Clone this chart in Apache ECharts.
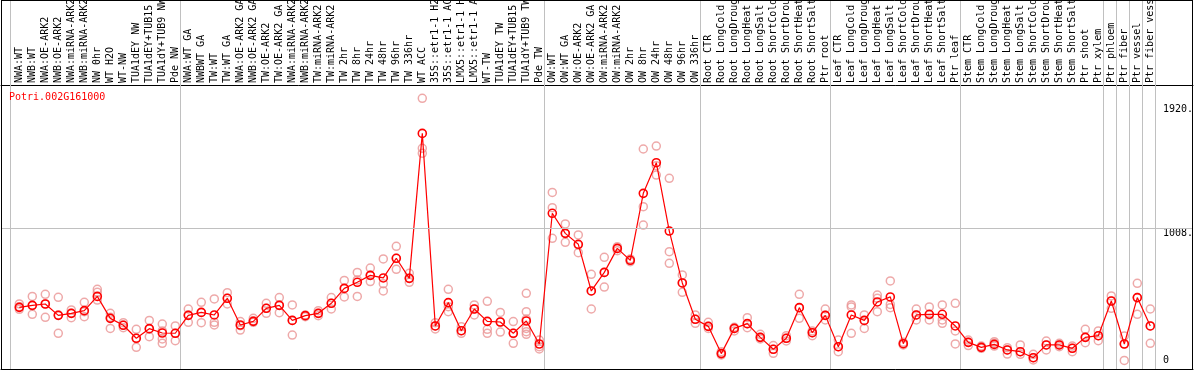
<!DOCTYPE html>
<html>
<head>
<meta charset="utf-8">
<script src="https://cdn.jsdelivr.net/npm/echarts@6/dist/echarts.min.js"></script>
<style>
html,body{margin:0;padding:0;background:#fff;}
#chart{width:1194px;height:370px;}
</style>
</head>
<body>
<div id="chart"></div>
<script>
// ---- data ----
const geneName = "Potri.002G161000";
const categories = [
  "NWA:WT","NWB:WT","NWA:OE-ARK2","NWB:OE-ARK2","NWA:miRNA-ARK2","NWB:miRNA-ARK2","NW 0hr","WT H2O","WT-NW","TUA1dEY NW","TUA1dEY+TUB15 NW","TUA1dY+TUB9 NW","Pde NW",
  "NWA:WT GA","NWBWT GA","TW:WT","TW:WT GA","NWA:OE-ARK2 GA","NWB:OE-ARK2 GA","TW:OE-ARK2","TW:OE-ARK2 GA","NWA:miRNA-ARK2 GA","NWB:miRNA-ARK2 GA","TW:miRNA-ARK2","TW:miRNA-ARK2 GA","TW 2hr","TW 8hr","TW 24hr","TW 48hr","TW 96hr","TW 336hr","WT ACC","35S::etr1-1 H2O","35S::etr1-1 ACC","LMX5::etr1-1 H2O","LMX5::etr1-1 ACC","WT-TW","TUA1dEY TW","TUA1dEY+TUB15 TW","TUA1dY+TUB9 TW","Pde TW",
  "OW:WT","OW:WT GA","OW:OE-ARK2","OW:OE-ARK2 GA","OW:miRNA-ARK2","OW:miRNA-ARK2 GA","OW 2hr","OW 8hr","OW 24hr","OW 48hr","OW 96hr","OW 336hr",
  "Root CTR","Root LongCold","Root LongDrought","Root LongHeat","Root LongSalt","Root ShortCold","Root ShortDrought","Root ShortHeat","Root ShortSalt","Ptr root",
  "Leaf CTR","Leaf LongCold","Leaf LongDrought","Leaf LongHeat","Leaf LongSalt","Leaf ShortCold","Leaf ShortDrought","Leaf ShortHeat","Leaf ShortSalt","Ptr leaf",
  "Stem CTR","Stem LongCold","Stem LongDrought","Stem LongHeat","Stem LongSalt","Stem ShortCold","Stem ShortDrought","Stem ShortHeat","Stem ShortSalt","Ptr shoot","Ptr xylem",
  "Ptr phloem","Ptr fiber","Ptr vessel","Ptr fiber vessel"
];
// index of the last category of each group (separator lines drawn after them)
const groupEnds = [12, 40, 52, 62, 72, 83, 84, 85, 86, 87];
const meanValues = [
  425,440,450,366,381,401,506,344,293,197,268,236,234,
  366,388,369,492,295,322,418,440,329,364,381,455,565,610,661,642,787,639,1708,288,460,253,413,322,317,234,325,155,
  1119,971,890,546,683,860,772,1266,1492,988,605,337,
  285,84,270,305,204,116,197,423,238,366,
  135,369,329,465,502,157,369,374,374,288,
  167,130,152,111,98,54,148,148,123,204,216,
  472,155,497,288
];
const replicateValues = [
  [450,430,411],[506,438,374],[521,450,352],[499,369,234],[406,381,349],[462,393,356],[558,536,479],[381,352,270],[312,295,275],[263,197,130],[329,266,209],[302,251,192,160],[288,234,179],
  [413,369,315],[462,388,312],[487,315,295],[533,492,450],[320,290,258],[344,327,315],[455,418,381],[497,443,386],[443,329,221],[369,364,356],[401,381,364],[497,455,413],[624,565,502],[683,627,506],[715,661,615],[782,600,546],[875,787,706],[676,639,610],[1967,1598,1561],[312,288,266],[558,430,393],[283,253,234],[443,413,369],[470,263,234],[388,317,243],[320,234,160],[529,393,339,270,246,226],[184,135,118],
  [1273,1160,934],[1040,971,905],[959,885,828],[669,546,413],[794,683,575],[873,860,843],[782,772,762],[1593,1168,1032],[1615,1470,1401],[1377,836,750],[664,605,536],[369,337,307],
  [315,285,270],[98,84,74],[278,270,251],[349,305,275],[226,204,192],[143,116,86],[216,197,177],[521,423,344],[251,238,216],[413,366,332],
  [184,135,98],[443,428,234],[369,329,270],[516,492,393],[620,447,423],[167,157,148],[413,369,332],[428,369,332],[443,332,307],[455,251,155],
  [184,167,143],[140,130,123],[172,160,140],[128,111,81],[148,98,79],[79,54,37],[177,148,111],[160,148,135],[140,123,98],[263,204,165],[251,216,179],
  [509,472,418],[214,155,34],[602,497,374],[413,288,160]
];
const yTickValues = [1008, 1920];
const yTickLabels = {"0": "0", "1008": "1008.", "1920": "1920."};
const yMax = 2065;

// ---- layout constants (pixels) ----
const W = 1194, H = 370;
const firstX = 19.3, step = 13;
const plotLeft = 1, plotRight = 1193, plotTop = 85, zeroY = 365;
const xMin = (plotLeft - firstX) / step;
const xMax = (plotRight - firstX) / step;
const sepOffset = 5 / step;
const separators = [(10 - firstX) / step].concat(groupEnds.map(i => i + sepOffset));

const FONT = "DejaVu Sans Mono";

const lineData = meanValues.map((v, i) => [i, v]);
const repData = [];
replicateValues.forEach((arr, i) => arr.forEach(v => repData.push([i, v])));

const chart = echarts.init(document.getElementById('chart'), null, {renderer: 'canvas'});
chart.setOption({
  animation: false,
  backgroundColor: '#ffffff',
  title: {
    text: geneName, left: 9, top: 92, padding: 0,
    textStyle: {color: '#ff0000', fontFamily: FONT, fontSize: 10, fontWeight: 'normal'}
  },
  grid: {left: plotLeft, right: W - plotRight, top: plotTop, bottom: H - zeroY, containLabel: false, outerBoundsMode: 'none'},
  xAxis: [
    {
      type: 'value', position: 'top', min: xMin, max: xMax,
      axisLine: {show: true, onZero: false, lineStyle: {color: '#000', width: 1}},
      axisTick: {show: false},
      splitLine: {show: false},
      axisLabel: {
        show: true, rotate: -90, margin: 2, customValues: categories.map((c, i) => i),
        formatter: v => categories[Math.round(v)] || '',
        fontFamily: FONT, fontSize: 10, color: '#000', hideOverlap: false
      }
    },
    {
      type: 'value', position: 'bottom', min: xMin, max: xMax, offset: 4,
      axisLine: {show: true, onZero: false, lineStyle: {color: '#000', width: 1}},
      axisTick: {show: true, inside: true, length: 369, customValues: separators, lineStyle: {color: '#c0c0c0', width: 1}},
      splitLine: {show: false},
      axisLabel: {show: false}
    }
  ],
  yAxis: [
    {
      type: 'value', position: 'right', min: 0, max: yMax,
      axisLine: {show: false}, axisTick: {show: false}, splitLine: {show: false},
      axisLabel: {
        inside: true, margin: 30, align: 'left', verticalAlign: 'top',
        customValues: yTickValues, formatter: v => yTickLabels[String(v)],
        fontFamily: FONT, fontSize: 10, color: '#000'
      }
    },
    {
      type: 'value', position: 'right', min: 0, max: yMax,
      axisLine: {show: false}, axisTick: {show: false}, splitLine: {show: false},
      axisLabel: {
        inside: true, margin: 30, align: 'left', verticalAlign: 'bottom',
        customValues: [0], formatter: v => yTickLabels[String(v)],
        fontFamily: FONT, fontSize: 10, color: '#000'
      }
    }
  ],
  graphic: [
    {type: 'line', shape: {x1: 1.5, y1: 0.5, x2: 1192.5, y2: 0.5}, style: {stroke: '#000', lineWidth: 1}, z: 100},
    {type: 'line', shape: {x1: 1.5, y1: 0, x2: 1.5, y2: 370}, style: {stroke: '#000', lineWidth: 1}, z: 100},
    {type: 'line', shape: {x1: 1192.5, y1: 0, x2: 1192.5, y2: 370}, style: {stroke: '#000', lineWidth: 1}, z: 100}
  ],
  series: [
    {
      type: 'scatter', xAxisIndex: 0, yAxisIndex: 0, data: repData,
      symbol: 'circle', symbolSize: 8, silent: true,
      itemStyle: {color: 'rgba(255,255,255,0)', borderColor: '#ea9494', borderWidth: 1.5},
      z: 2
    },
    {
      type: 'line', xAxisIndex: 0, yAxisIndex: 0, data: lineData,
      symbol: 'circle', symbolSize: 8, showAllSymbol: true, silent: true,
      lineStyle: {color: '#ff0000', width: 1.2},
      itemStyle: {color: 'rgba(255,255,255,0)', borderColor: '#ff0000', borderWidth: 1.6},
      markLine: {
        silent: true, symbol: 'none', label: {show: false},
        lineStyle: {color: '#c0c0c0', type: 'solid', width: 1},
        data: [{yAxis: 1008}]
      },
      z: 3
    }
  ]
});
</script>
</body>
</html>
